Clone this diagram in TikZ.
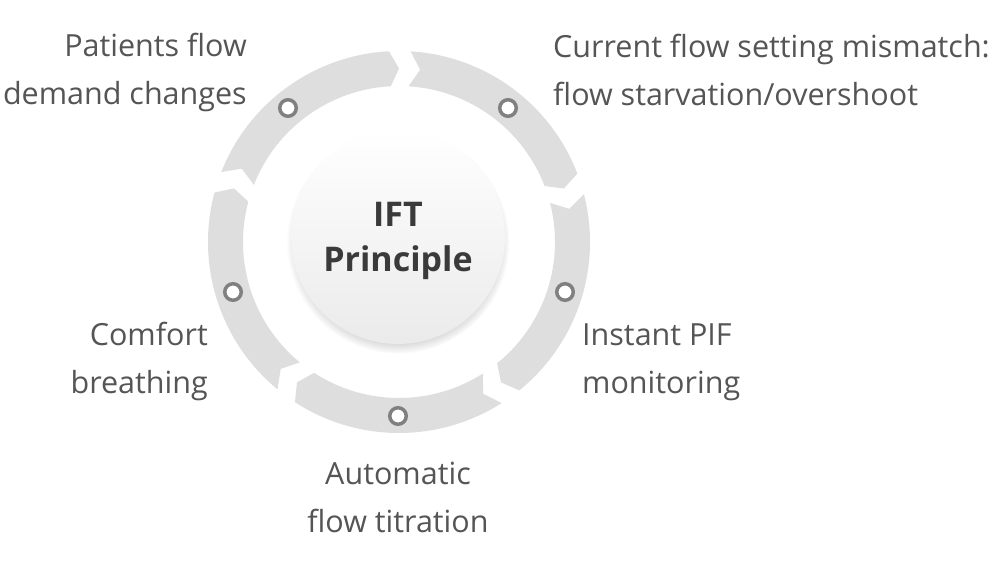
\documentclass[tikz,border=0pt]{standalone}
\usepackage{fontspec}
\setmainfont{Open Sans}
\usetikzlibrary{shadows}
\definecolor{ringgray}{RGB}{222,222,222}
\definecolor{dotgray}{RGB}{128,128,128}
\definecolor{labelgray}{RGB}{85,85,85}
\definecolor{hubtext}{RGB}{58,58,58}
\begin{document}
\begin{tikzpicture}[x=1pt, y=1pt,
  lbl/.style={text=labelgray, font=\fontsize{30.5}{48}\selectfont, inner sep=0pt},
  dot/.style={circle, draw=dotgray, line width=3.5pt, fill=white, minimum size=16.5pt, inner sep=0pt},
  hub/.style={circle, minimum size=214pt, inner sep=0pt, top color=white, bottom color=black!8,
    circular drop shadow={shadow scale=1.04, shadow xshift=0pt, shadow yshift=-5pt, opacity=0.45},
    text=hubtext, font=\bfseries\fontsize{34}{45}\selectfont, align=center, text depth=0pt}]
\fill[white] (0,0) rectangle (1000,563);
\useasboundingbox (0,0) rectangle (1000,563);
\coordinate (ring) at (399,321);
\begin{scope}[shift={(ring)}]
\foreach \b [evaluate=\b as \e using \b-72] in {90,18,-54,-126,-198}
  \fill[ringgray] (\b-3.5:191pt) arc[start angle=\b-3.5, end angle=\e+3, radius=191pt]
    -- (\e:173.5pt) -- (\e+3:156pt) arc[start angle=\e+3, end angle=\b-3.5, radius=156pt]
    -- (\b-7:173.5pt) -- cycle;
\end{scope}
\node(D1) [dot] at (288,455) {};
\node(D2) [dot] at (508,455) {};
\node(D3) [dot] at (565,271) {};
\node(D4) [dot] at (398,147) {};
\node(D5) [dot] at (233,271) {};
\node(H) [hub] at (398,326) {IFT\\Principle};
\node(L1) [lbl, anchor=base east, align=right] at (247,458) {Patients flow\\demand changes};
\node(L2) [lbl, anchor=base west, align=left] at (553,457) {Current flow setting mismatch:\\flow starvation/overshoot};
\node(L3) [lbl, anchor=base west, align=left] at (582,170) {Instant PIF\\monitoring};
\node(L4) [lbl, anchor=base, align=center] at (398,31) {Automatic\\flow titration};
\node(L5) [lbl, anchor=base east, align=right] at (208,170) {Comfort\\breathing};
\end{tikzpicture}
\end{document}
